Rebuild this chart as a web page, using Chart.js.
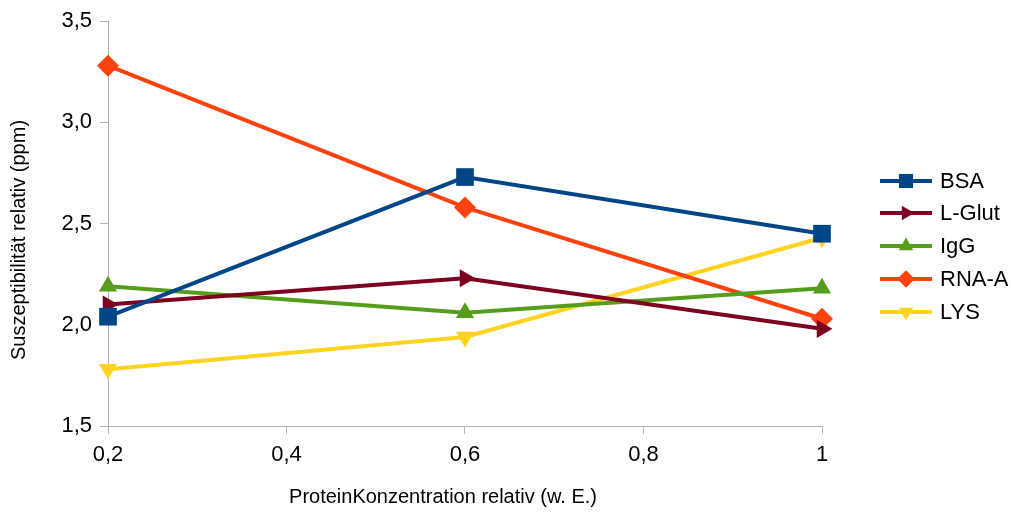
<!DOCTYPE html>
<html>
<head>
<meta charset="utf-8">
<script src="https://cdn.jsdelivr.net/npm/chart.js@4"></script>
<style>
  html, body { margin: 0; padding: 0; background: #fff; }
  #wrap { width: 1011px; height: 513px; }
</style>
</head>
<body>
<div id="wrap"><canvas id="chart" width="1011" height="513"></canvas></div>
<script>
// x positions (Protein concentration, relative)
const conc = [0.2, 0.6, 1.0];
// series values
const bsa = [2.04, 2.73, 2.45];
const lglut = [2.10, 2.23, 1.98];
const igg = [2.19, 2.06, 2.18];
const rnaA = [3.28, 2.58, 2.03];
const lys = [1.78, 1.94, 2.43];
const seriesNames = ['BSA', 'L-Glut', 'IgG', 'RNA-A', 'LYS'];
const xTitle = 'ProteinKonzentration relativ (w. E.)';
const yTitle = 'Suszeptibilität relativ (ppm)';

const font = "'Liberation Sans', Arial, sans-serif";

function pts(vals) {
    return vals.map((v, i) => ({ x: conc[i], y: v }));
}

const styles = [
    { color: '#004586', point: 'rect', radius: 12.5, rot: 0 },
    { color: '#7e0021', point: 'triangle', radius: 10.5, rot: 90 },
    { color: '#579d1c', point: 'triangle', radius: 10.5, rot: 0 },
    { color: '#ff420e', point: 'rectRot', radius: 11, rot: 0 },
    { color: '#ffd320', point: 'triangle', radius: 10.5, rot: 180 },
];
const allVals = [bsa, lglut, igg, rnaA, lys];

const datasets = allVals.map((vals, i) => ({
    label: seriesNames[i],
    data: pts(vals),
    borderColor: styles[i].color,
    backgroundColor: styles[i].color,
    borderWidth: 4,
    pointStyle: styles[i].point,
    pointRadius: styles[i].radius,
    pointHoverRadius: styles[i].radius,
    pointRotation: styles[i].rot,
    pointBorderWidth: 0,
    tension: 0,
    clip: false,
}));

// legend + axis titles drawn by hand
const extras = {
    id: 'extras',
    afterDraw(chart) {
        const ctx = chart.ctx;
        const x0 = 880, x1 = 932, tx = 940;
        const ys = [181, 213, 246, 279, 312];
        ctx.save();
        chart.data.datasets.forEach((ds, i) => {
            const y = ys[i];
            ctx.strokeStyle = ds.borderColor;
            ctx.lineWidth = 4;
            ctx.beginPath();
            ctx.moveTo(x0, y);
            ctx.lineTo(x1, y);
            ctx.stroke();
            ctx.fillStyle = ds.backgroundColor;
            ctx.strokeStyle = ds.backgroundColor;
            Chart.helpers.drawPoint(ctx, {
                pointStyle: ds.pointStyle,
                rotation: ds.pointRotation,
                radius: ds.pointRadius * 0.8,
                borderWidth: 0
            }, (x0 + x1) / 2, y);
            ctx.fillStyle = '#000';
            ctx.font = '22px ' + font;
            ctx.textBaseline = 'middle';
            ctx.textAlign = 'left';
            ctx.fillText(ds.label, tx, y + 1);
        });
        ctx.fillStyle = '#000';
        ctx.font = '20px ' + font;
        ctx.textAlign = 'center';
        ctx.textBaseline = 'middle';
        ctx.fillText(xTitle, 443, 497);
        ctx.translate(19, 240);
        ctx.rotate(-Math.PI / 2);
        ctx.fillText(yTitle, 0, 0);
        ctx.restore();
    }
};

const ctx = document.getElementById('chart').getContext('2d');
const chart = new Chart(ctx, {
    type: 'line',
    data: { datasets: datasets },
    options: {
        responsive: false,
        animation: false,
        devicePixelRatio: 1,
        layout: { padding: { left: 0, right: 189, top: 14, bottom: 0 } },
        plugins: { legend: { display: false }, tooltip: { enabled: false } },
        scales: {
            x: {
                type: 'linear',
                min: 0.2,
                max: 1.0,
                border: { color: '#b3b3b3', width: 1 },
                grid: { drawOnChartArea: false, drawTicks: true, tickLength: 8, color: '#b3b3b3' },
                ticks: {
                    stepSize: 0.2,
                    color: '#000',
                    font: { family: font, size: 22 },
                    padding: 8,
                    maxRotation: 0,
                    callback: v => (Math.round(v * 10) / 10).toString().replace('.', ',')
                },
                afterFit: s => { s.height = 87; }
            },
            y: {
                min: 1.5,
                max: 3.5,
                border: { color: '#b3b3b3', width: 1 },
                grid: { drawOnChartArea: false, drawTicks: true, tickLength: 8, color: '#b3b3b3' },
                ticks: {
                    stepSize: 0.5,
                    color: '#000',
                    font: { family: font, size: 22 },
                    padding: 8,
                    callback: v => v.toFixed(1).replace('.', ',')
                },
                afterFit: s => { s.width = 108; }
            }
        }
    },
    plugins: [extras]
});
</script>
</body>
</html>
